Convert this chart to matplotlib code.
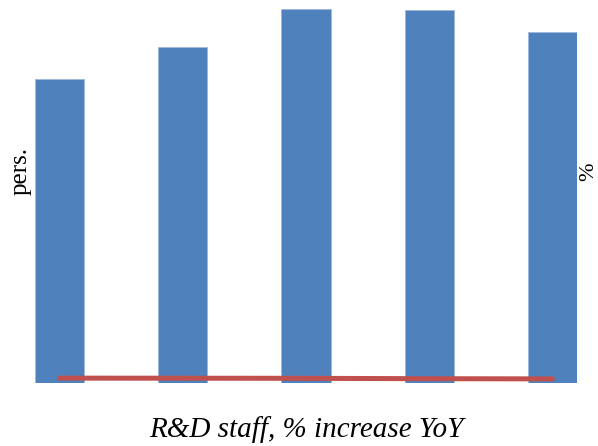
import numpy as np
import matplotlib.pyplot as plt

# R&D staff headcount (bars) and year-on-year growth (line)
years = ["2008", "2009", "2010", "2011", "2012"]
staff = [3040, 3360, 3740, 3730, 3510]
growth = [1.30, 1.28, 1.25, 1.15, 1.10]

bar_color = "#4F81BD"
line_color = "#C0504D"

plt.rcParams["font.family"] = ["Liberation Serif", "DejaVu Serif"]

fig = plt.figure(figsize=(5.98, 4.46), dpi=100)
ax = fig.add_axes([35 / 598, 1 - 383 / 446, 542 / 598, 374 / 446])
x = np.arange(len(years))

ax.bar(x, staff, width=0.4, color=bar_color, edgecolor="#9DB9DE", linewidth=0.6)
ax.set_xlim(-0.2, 4.2)
ax.set_ylim(0, max(staff))
ax.set_xticks([])
ax.set_yticks([])
for s in ax.spines.values():
    s.set_visible(False)

ax2 = ax.twinx()
ax2.plot(x, growth, color=line_color, lw=3.6, solid_capstyle="round")
ax2.set_ylim(0, 100)
ax2.set_yticks([])
for s in ax2.spines.values():
    s.set_visible(False)

fig.text(21 / 598, 1 - 171 / 446, "pers.", rotation=90, fontsize=18,
         ha="center", va="center")
fig.text(589 / 598, 1 - 172 / 446, "%", rotation=90, fontsize=16,
         ha="center", va="center")
fig.text(306 / 598, 1 - 430 / 446, "R&D staff, % increase YoY", fontsize=21,
         style="italic", ha="center", va="center")

fig.savefig("out.png", dpi=100)
